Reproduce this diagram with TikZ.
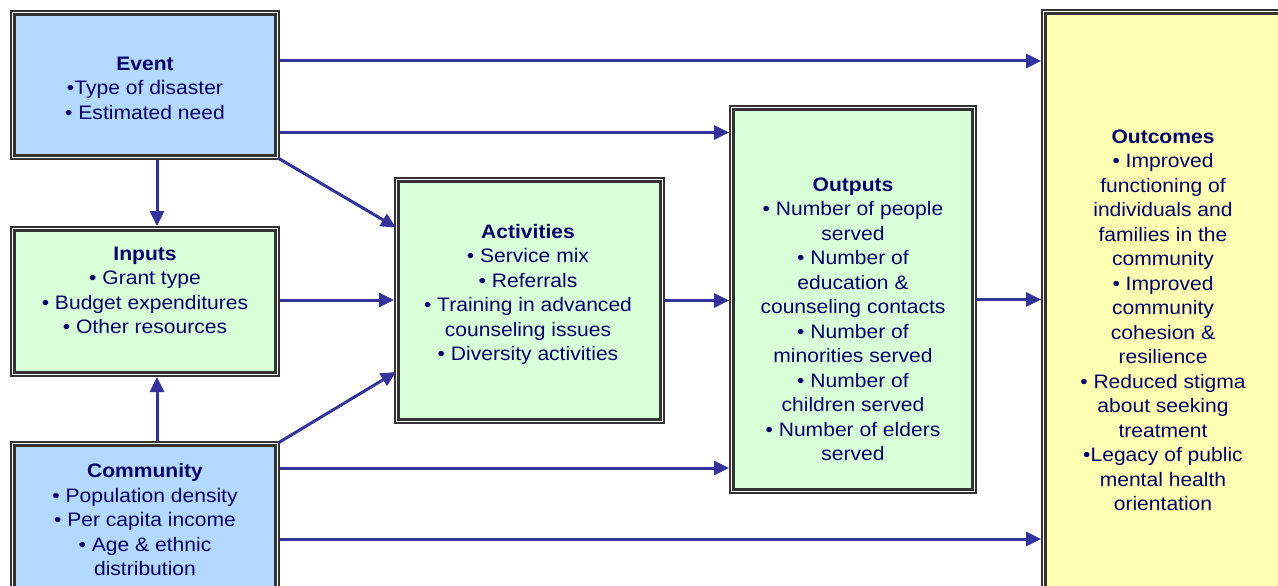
\documentclass[tikz,border=0pt]{standalone}
\usepackage{fontspec}
\setmainfont{Liberation Sans}[FakeStretch=1.08]
\usetikzlibrary{arrows.meta}
\definecolor{txt}{RGB}{0,0,102}
\definecolor{arrc}{RGB}{51,51,153}
\definecolor{bord}{RGB}{51,51,51}
\definecolor{fblue}{RGB}{179,217,255}
\definecolor{fgreen}{RGB}{217,255,217}
\definecolor{fyellow}{RGB}{255,255,179}
\begin{document}
\begin{tikzpicture}[x=1pt,y=-1pt,
  box/.style={draw=bord, line width=2.2pt, double=white, double distance=1.2pt, outer sep=2.8pt, inner sep=0pt},
  lbl/.style={text=txt, align=center, anchor=north, inner sep=0pt, font=\fontsize{19.5}{24.5}\selectfont, execute at begin node=\strut},
  arr/.style={draw=arrc, line width=3pt, -{Triangle[length=15pt,width=14pt]}}]
\clip (0,0) rectangle (1278,586);
\fill[white] (0,0) rectangle (1278,586);
% boxes
\node[box, fill=fblue, minimum width=264.4pt, minimum height=144.4pt] (ev) at (145,85) {};
\node[box, fill=fgreen, minimum width=264.4pt, minimum height=145.4pt] (in) at (145,301.5) {};
\node[box, fill=fblue, minimum width=264.4pt, minimum height=153.4pt] (cm) at (145,520.5) {};
\node[box, fill=fgreen, minimum width=265.4pt, minimum height=241.4pt] (ac) at (529.5,300.5) {};
\node[box, fill=fgreen, minimum width=242.4pt, minimum height=383.4pt] (op) at (853,299.5) {};
\node[box, fill=fyellow, minimum width=243.4pt, minimum height=625.4pt] (oc) at (1165.5,324.5) {};
% texts
\node[lbl] (evt) at (145,56.85) {\textbf{Event}\\•Type of disaster\\• Estimated need};
\node[lbl] (int) at (145,246.85) {\textbf{Inputs}\\• Grant type\\• Budget expenditures\\• Other resources};
\node[lbl] (cmt) at (145,463.35) {\textbf{Community}\\• Population density\\• Per capita income\\• Age \& ethnic\\distribution};
\node[lbl] (act) at (528,223.85) {\textbf{Activities}\\• Service mix\\• Referrals\\• Training in advanced\\counseling issues\\• Diversity activities};
\node[lbl] (opt) at (853,177.35) {\textbf{Outputs}\\• Number of people\\served\\• Number of\\education \&\\counseling contacts\\• Number of\\minorities served\\• Number of\\children served\\• Number of elders\\served};
\node[lbl] (oct) at (1163,129.65) {\textbf{Outcomes}\\• Improved\\functioning of\\individuals and\\families in the\\community\\• Improved\\community\\cohesion \&\\resilience\\• Reduced stigma\\about seeking\\treatment\\•Legacy of public\\mental health\\orientation};
% connector start points
\coordinate (e1) at ([yshift=24pt]ev.east);
\coordinate (e2) at ([yshift=-47.5pt]ev.east);
\coordinate (e3) at ([xshift=-2pt,yshift=2pt]ev.south east);
\coordinate (e4) at ([xshift=12pt]ev.south);
\coordinate (a1) at ([xshift=2pt,yshift=73pt]ac.west);
\coordinate (a2) at ([xshift=2pt,yshift=-71.5pt]ac.west);
\coordinate (c1) at ([xshift=-2pt,yshift=-2pt]cm.north east);
\coordinate (c2) at ([yshift=52.5pt]cm.east);
\coordinate (c3) at ([yshift=-18.5pt]cm.east);
\coordinate (c4) at ([xshift=12pt]cm.north);
\coordinate (i1) at ([yshift=1.5pt]in.east);
% connectors
\draw[arr] (e1) -- (e1 -| oc.west);
\draw[arr] (e2) -- (e2 -| op.west);
\draw[arr] (e3) -- (a1);
\draw[arr] (e4) -- (e4 |- in.north);
\draw[arr] (i1) -- (i1 -| ac.west);
\draw[arr] (c4) -- (c4 |- in.south);
\draw[arr] (c1) -- (a2);
\draw[arr] (c2) -- (c2 -| op.west);
\draw[arr] (c3) -- (c3 -| oc.west);
\draw[arr] (ac.east) -- (ac.east -| op.west);
\draw[arr] (op.east) -- (op.east -| oc.west);
\end{tikzpicture}
\end{document}
